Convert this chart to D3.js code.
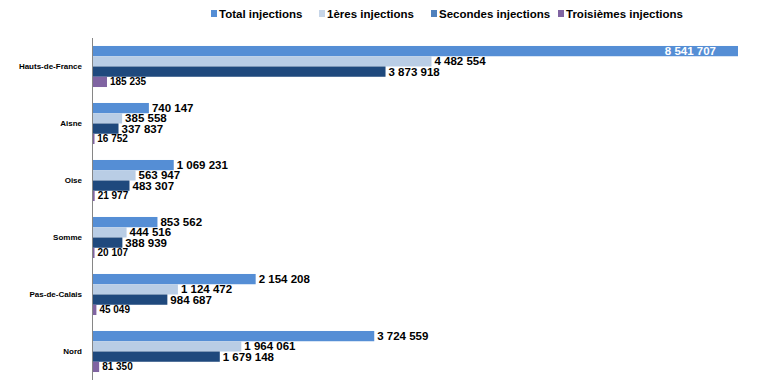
<!DOCTYPE html>
<html><head><meta charset="utf-8">
<script src="https://cdn.jsdelivr.net/npm/d3@7"></script>
<style>
body{margin:0;background:#fff;}
svg{display:block;font-family:"Liberation Sans",Arial,sans-serif;}
</style></head>
<body><svg id="c" width="777" height="380"></svg>
<script>
const categories = ["Hauts-de-France","Aisne","Oise","Somme","Pas-de-Calais","Nord"];
const seriesNames = ["Total injections","1ères injections","Secondes injections","Troisièmes injections"];
const totalInj = [8541707,740147,1069231,853562,2154208,3724559];
const firstInj = [4482554,385558,563947,444516,1124472,1964061];
const secondInj = [3873918,337837,483307,388939,984687,1679148];
const thirdInj = [185235,16752,21977,20107,45049,81350];
const seriesValues = [totalInj, firstInj, secondInj, thirdInj];
const colors = ["#558ED5","#B9CDE5","#1F497D","#8064A2"];
const legendColors = ["#558ED5","#C6D5E8","#4F81BD","#8064A2"];

const svg = d3.select("#c");
const fmt = v => d3.format(",")(v).replace(/,/g," ");

const x = d3.scaleLinear().domain([0, 8541707]).range([92, 737]);
const y = d3.scaleBand().domain(categories).range([38, 380]).paddingInner(0.28).paddingOuter(0.14);
const ySub = d3.scaleBand().domain(d3.range(4)).range([0, y.bandwidth()]);

// axis line
svg.append("line").attr("x1",92.5).attr("x2",92.5).attr("y1",38).attr("y2",380)
  .attr("stroke","#868686").attr("stroke-width",1);

categories.forEach((c,i)=>{
  const g = svg.append("g").attr("transform",`translate(0,${y(c)})`);
  seriesValues.forEach((vals,s)=>{
    const v = vals[i];
    g.append("rect").attr("x",x(0)+1).attr("y",ySub(s)).attr("width",Math.max(x(v)-x(0),1.5))
      .attr("height",ySub.bandwidth()).attr("fill",colors[s]);
    const inside = (s===0 && i===0);
    g.append("text")
      .attr("x", inside ? x(v)-21 : x(v)+4)
      .attr("y", ySub(s)+ySub.bandwidth()/2)
      .attr("dy","0.35em")
      .attr("text-anchor", inside ? "end" : "start")
      .attr("font-weight","bold")
      .attr("font-size", s===3 ? 10 : 11.5)
      .attr("fill", inside ? "#fff" : "#000")
      .text(fmt(v));
  });
  svg.append("text").attr("x",82).attr("y",y(c)+y.bandwidth()/2).attr("dy","0.35em")
    .attr("text-anchor","end").attr("font-weight","bold").attr("font-size",8).attr("fill","#000").text(c);
});

// legend
const legX = [211, 319, 431, 558];
seriesNames.forEach((n,s)=>{
  svg.append("rect").attr("x",legX[s]).attr("y",10).attr("width",6).attr("height",7).attr("fill",legendColors[s]);
  svg.append("text").attr("x",legX[s]+8).attr("y",14).attr("dy","0.35em")
    .attr("font-weight","bold").attr("font-size",11.5).attr("fill","#000").text(n);
});
</script></body></html>
